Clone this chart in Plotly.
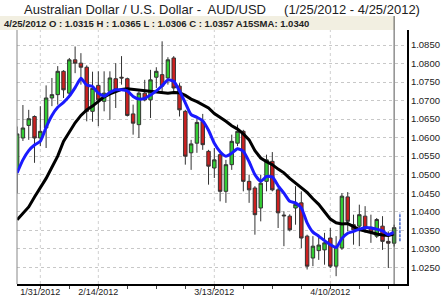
import plotly.graph_objects as go
import pandas as pd

dates = pd.bdate_range("2012-01-25", "2012-04-25")
dates = [f"{d.month}/{d.day}/{d.year}" for d in dates]

opens = [1.0513, 1.0599, 1.0633, 1.0657, 1.0599, 1.0626, 1.0707, 1.0716, 1.0779, 1.0720,
         1.0810, 1.0801, 1.0790, 1.0671, 1.0741, 1.0698, 1.0725, 1.0759, 1.0763, 1.0759,
         1.0664, 1.0635, 1.0720, 1.0702, 1.0763, 1.0770, 1.0761, 1.0815, 1.0739, 1.0671,
         1.0559, 1.0585, 1.0644, 1.0563, 1.0518, 1.0554, 1.0455, 1.0527, 1.0585, 1.0617,
         1.0482, 1.0464, 1.0410, 1.0482, 1.0536, 1.0459, 1.0391, 1.0388, 1.0410, 1.0424,
         1.0334, 1.0275, 1.0295, 1.0297, 1.0329, 1.0253, 1.0302, 1.0440, 1.0365, 1.0361,
         1.0388, 1.0358, 1.0334, 1.0361, 1.0320, 1.0315]
highs = [1.0630, 1.0688, 1.0675, 1.0660, 1.0685, 1.0741, 1.0761, 1.0793, 1.0782, 1.0815,
         1.0846, 1.0828, 1.0795, 1.0778, 1.0779, 1.0779, 1.0779, 1.0801, 1.0820, 1.0762,
         1.0689, 1.0725, 1.0756, 1.0783, 1.0790, 1.0860, 1.0817, 1.0820, 1.0747, 1.0675,
         1.0594, 1.0657, 1.0664, 1.0567, 1.0572, 1.0563, 1.0540, 1.0608, 1.0635, 1.0621,
         1.0500, 1.0469, 1.0500, 1.0554, 1.0561, 1.0464, 1.0401, 1.0393, 1.0469, 1.0455,
         1.0338, 1.0334, 1.0338, 1.0343, 1.0356, 1.0334, 1.0450, 1.0453, 1.0392, 1.0419,
         1.0415, 1.0392, 1.0383, 1.0388, 1.0347, 1.0365]
lows = [1.0450, 1.0591, 1.0594, 1.0532, 1.0577, 1.0572, 1.0685, 1.0689, 1.0707, 1.0707,
        1.0774, 1.0743, 1.0644, 1.0643, 1.0631, 1.0671, 1.0648, 1.0680, 1.0743, 1.0657,
        1.0608, 1.0599, 1.0698, 1.0653, 1.0734, 1.0720, 1.0743, 1.0720, 1.0657, 1.0527,
        1.0513, 1.0559, 1.0567, 1.0473, 1.0491, 1.0428, 1.0424, 1.0513, 1.0577, 1.0455,
        1.0424, 1.0338, 1.0374, 1.0455, 1.0455, 1.0356, 1.0307, 1.0347, 1.0365, 1.0302,
        1.0244, 1.0253, 1.0270, 1.0257, 1.0248, 1.0226, 1.0297, 1.0347, 1.0311, 1.0307,
        1.0343, 1.0316, 1.0329, 1.0297, 1.0248, 1.0306]
closes = [1.0610, 1.0626, 1.0651, 1.0599, 1.0617, 1.0707, 1.0716, 1.0779, 1.0729, 1.0810,
          1.0801, 1.0790, 1.0671, 1.0733, 1.0702, 1.0720, 1.0761, 1.0729, 1.0761, 1.0660,
          1.0639, 1.0720, 1.0702, 1.0756, 1.0779, 1.0739, 1.0810, 1.0734, 1.0675, 1.0550,
          1.0583, 1.0641, 1.0581, 1.0523, 1.0540, 1.0455, 1.0527, 1.0590, 1.0617, 1.0482,
          1.0459, 1.0392, 1.0477, 1.0540, 1.0459, 1.0397, 1.0389, 1.0351, 1.0420, 1.0329,
          1.0253, 1.0307, 1.0310, 1.0316, 1.0253, 1.0307, 1.0442, 1.0374, 1.0351, 1.0392,
          1.0356, 1.0345, 1.0379, 1.0320, 1.0315, 1.0357]

sma5 = [1.0505, 1.0540, 1.0565, 1.0580, 1.0590, 1.0628, 1.0660, 1.0682, 1.0695, 1.0712,
        1.0735, 1.0760, 1.0742, 1.0738, 1.0720, 1.0712, 1.0722, 1.0729, 1.0729, 1.0726,
        1.0711, 1.0704, 1.0706, 1.0715, 1.0726, 1.0740, 1.0756, 1.0752, 1.0726, 1.0694,
        1.0662, 1.0655, 1.0645, 1.0620, 1.0585, 1.0562, 1.0550, 1.0558, 1.0570, 1.0563,
        1.0535, 1.0500, 1.0482, 1.0495, 1.0494, 1.0470, 1.0450, 1.0428, 1.0424, 1.0410,
        1.0370, 1.0345, 1.0334, 1.0322, 1.0311, 1.0303, 1.0328, 1.0342, 1.0347, 1.0353,
        1.0357, 1.0356, 1.0353, 1.0348, 1.0338, 1.0345]
sma15 = [1.0378, 1.0395, 1.0413, 1.0440, 1.0465, 1.0490, 1.0520, 1.0550, 1.0590, 1.0615,
         1.0640, 1.0660, 1.0675, 1.0685, 1.0697, 1.0710, 1.0718, 1.0723, 1.0730, 1.0732,
         1.0730, 1.0729, 1.0727, 1.0725, 1.0723, 1.0721, 1.0720, 1.0722, 1.0721, 1.0714,
         1.0704, 1.0697, 1.0689, 1.0680, 1.0665, 1.0655, 1.0644, 1.0632, 1.0623, 1.0610,
         1.0594, 1.0565, 1.0545, 1.0535, 1.0527, 1.0515, 1.0505, 1.0490, 1.0477, 1.0465,
         1.0452, 1.0435, 1.0420, 1.0400, 1.0380, 1.0370, 1.0367, 1.0368, 1.0360, 1.0352,
         1.0348, 1.0343, 1.0340, 1.0337, 1.0336, 1.0340]

next_day = "4/26/2012"
next_range = [1.0320, 1.0397]

label_dates = ["1/31/2012", "2/14/2012", "3/13/2012", "4/10/2012"]
tick_dates = [d for i, d in enumerate(dates) if i % 5 == 4]
title = "Australian Dollar / U.S. Dollar -\u00a0 AUD/USD\u00a0\u00a0\u00a0\u00a0 (1/25/2012 - 4/25/2012)"
header = "4/25/2012 O : 1.0315 H : 1.0365 L : 1.0306 C : 1.0357 A15SMA: 1.0340"

FONT = "Arial, Liberation Sans, sans-serif"
fig = go.Figure()
fig.add_trace(go.Candlestick(
    x=dates, open=opens, high=highs, low=lows, close=closes,
    increasing=dict(fillcolor="#33cc33", line=dict(color="#333333", width=1)),
    decreasing=dict(fillcolor="#cc2020", line=dict(color="#333333", width=1)),
    whiskerwidth=0, showlegend=False, hoverinfo="skip"))
fig.add_trace(go.Scatter(x=dates, y=sma15, mode="lines",
                         line=dict(color="black", width=3), showlegend=False))
fig.add_trace(go.Scatter(x=dates, y=sma5, mode="lines",
                         line=dict(color="#1a1aff", width=3, shape="spline", smoothing=0.5),
                         showlegend=False))
fig.add_trace(go.Scatter(x=[next_day, next_day], y=next_range, mode="lines",
                         line=dict(color="#4466cc", width=1.5, dash="3px,1px"),
                         showlegend=False))

last_idx = len(dates) - 1
shapes = [
    dict(type="rect", xref="paper", yref="paper", x0=-17/390, x1=(395-17)/390,
         y0=1.0, y1=1 + 14/254, fillcolor="#f2efe1", line=dict(width=0), layer="below"),
    dict(type="line", xref="x", yref="paper", x0=last_idx, x1=last_idx, y0=0, y1=1 + 14/254,
         line=dict(color="#555555", width=1)),
    dict(type="line", xref="paper", yref="paper", x0=0, x1=0, y0=0, y1=1,
         line=dict(color="#888888", width=1)),
]
for d in label_dates:
    shapes.append(dict(type="line", xref="x", yref="paper", x0=dates.index(d), x1=dates.index(d),
                       y0=0, y1=1, line=dict(color="#d0d0d0", width=1, dash="dot"), layer="below"))

fig.update_layout(
    width=441, height=298,
    margin=dict(l=17, r=34, t=30, b=14, autoexpand=False),
    paper_bgcolor="white", plot_bgcolor="white",
    font=dict(family=FONT, color="#222222"),
    boxgap=0.15,
    shapes=shapes,
    annotations=[
        dict(text=title, xref="paper", yref="paper",
             x=(22-17)/390, y=1 + 20/254, xanchor="left", yanchor="middle",
             showarrow=False, font=dict(size=13, color="#222222", family=FONT)),
        dict(text="<b>" + header + "</b>", xref="paper", yref="paper",
             x=(2-17)/390, y=1 + 7/254, xanchor="left", yanchor="middle",
             showarrow=False, font=dict(size=9.5, color="#222222", family=FONT)),
    ],
)
fig.update_xaxes(
    type="category", range=[-0.02, 67.22], automargin=False,
    rangeslider=dict(visible=False),
    tickmode="array", tickvals=tick_dates,
    ticktext=[d if d in label_dates else "" for d in tick_dates],
    ticks="outside", ticklen=3, tickcolor="#444", ticklabelstandoff=-5,
    showgrid=False, showline=True, linecolor="black", linewidth=2,
    tickfont=dict(size=9, color="#222222", family=FONT), zeroline=False,
)
fig.update_yaxes(
    side="right", range=[1.02049, 1.08905], dtick=0.005, tick0=1.0, automargin=False,
    tickformat=".4f", ticks="", showgrid=True, gridcolor="#c8c8c8", griddash="dot",
    showline=True, linecolor="black", linewidth=2,
    tickfont=dict(size=9.5, color="#222222", family=FONT), zeroline=False,
)
fig.write_html("out.html")
